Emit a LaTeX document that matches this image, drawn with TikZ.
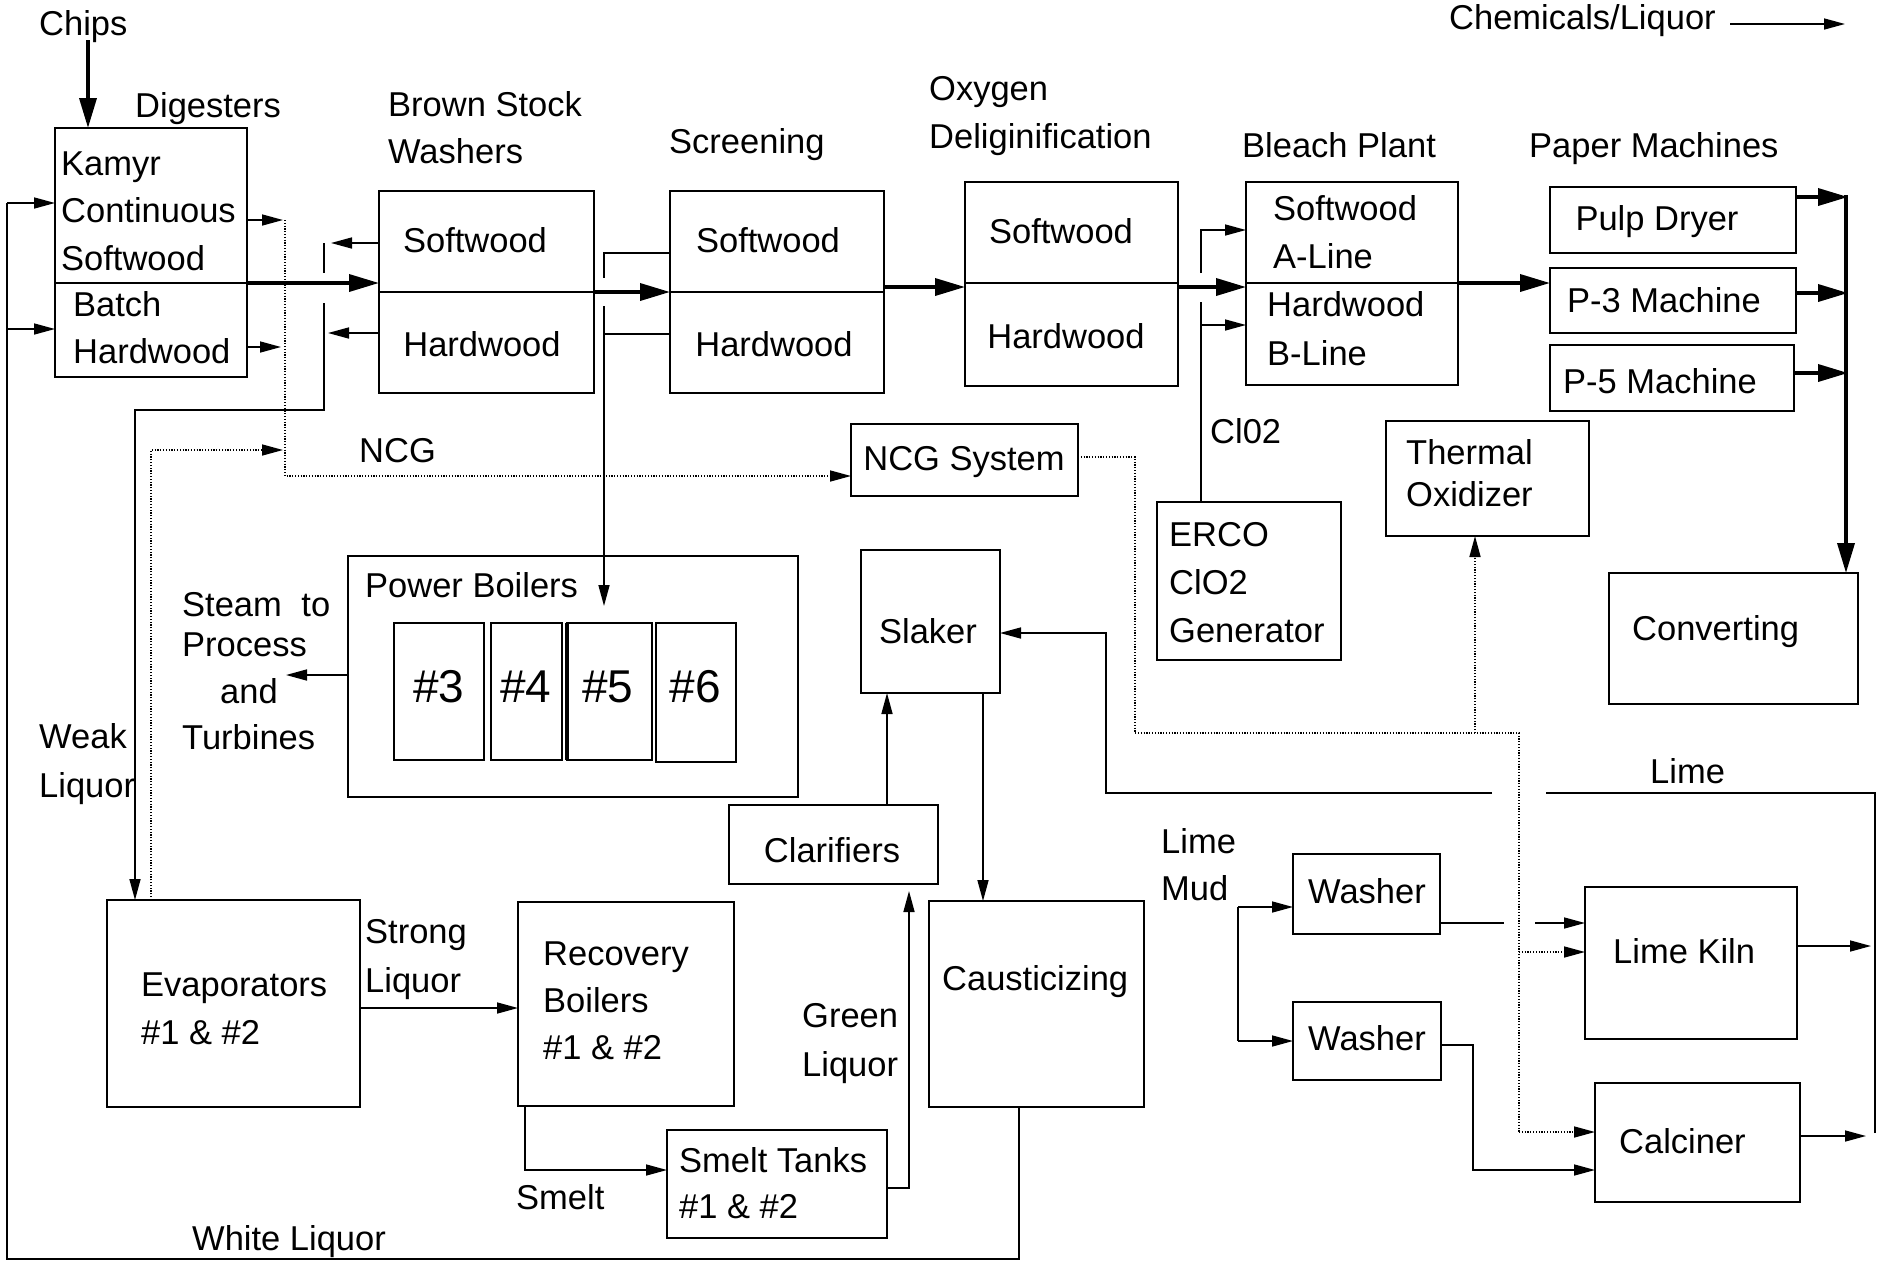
\documentclass[tikz,border=0pt]{standalone}
\usepackage{fontspec}
\setmainfont{Liberation Sans}
\usetikzlibrary{arrows.meta}
\newcommand\BX[5]{\node[box, minimum width={#4-#2}, minimum height={#5-#3}] (#1) at ({(#2+#4)/2},{(#3+#5)/2}) {};}
\newcommand\Lns[2]{\vtop{\baselineskip=#1\relax #2}}
\begin{document}
\begin{tikzpicture}[x=1pt,y=-1pt,
  box/.style={draw, line width=2.4pt, inner sep=0pt, outer sep=0pt},
  divl/.style={line width=2.4pt},
  lbl/.style={anchor=base west, inner sep=0pt, font=\fontsize{34.5}{40}\selectfont},
  clbl/.style={anchor=base, inner sep=0pt, font=\fontsize{34.5}{40}\selectfont},
  big/.style={anchor=base, inner sep=0pt, font=\fontsize{46}{50}\selectfont},
  thn/.style={line width=1.6pt},
  thk/.style={line width=3.6pt},
  ta/.style={thn, -{Triangle[length=21pt,width=11pt]}},
  ka/.style={thk, -{Triangle[length=30pt,width=17pt]}},
  dot/.style={line width=1.6pt, dash pattern=on 1.2pt off 1.6pt},
  da/.style={dot, -{Triangle[length=21pt,width=11pt]}},
]
\fill[white] (0,0) rectangle (1883,1262);
\useasboundingbox (0,0) rectangle (1883,1262);

% ---------- boxes ----------
\BX{dig}{55}{128}{247}{377}
\BX{bsw}{379}{191}{594}{393}
\BX{scr}{670}{191}{884}{393}
\BX{oxy}{965}{182}{1178}{386}
\BX{blc}{1246}{182}{1458}{385}
\BX{pulp}{1550}{187}{1796}{253}
\BX{p3}{1550}{268}{1796}{333}
\BX{p5}{1550}{345}{1794}{411}
\BX{ncgs}{851}{424}{1078}{496}
\BX{erco}{1157}{502}{1341}{660}
\BX{thox}{1386}{421}{1589}{536}
\BX{conv}{1609}{573}{1858}{704}
\BX{pb}{348}{556}{798}{797}
\BX{b3}{394}{623}{484}{760}
\BX{b4}{491}{623}{562}{760}
\BX{b5}{567}{623}{652}{760}
\BX{b6}{656}{623}{736}{762}
\BX{slaker}{861}{550}{1000}{693}
\BX{clar}{729}{805}{938}{884}
\BX{evap}{107}{900}{360}{1107}
\BX{recov}{518}{902}{734}{1106}
\BX{smelt}{667}{1130}{887}{1238}
\BX{caus}{929}{901}{1144}{1107}
\BX{wash1}{1293}{854}{1440}{934}
\BX{wash2}{1293}{1002}{1441}{1080}
\BX{kiln}{1585}{887}{1797}{1039}
\BX{calc}{1595}{1083}{1800}{1202}

% dividers
\draw[divl] (dig.west |- 0,283) -- (dig.east |- 0,283);
\draw[divl] (bsw.west |- 0,292) -- (bsw.east |- 0,292);
\draw[divl] (scr.west |- 0,292) -- (scr.east |- 0,292);
\draw[divl] (oxy.west |- 0,283) -- (oxy.east |- 0,283);
\draw[divl] (blc.west |- 0,283) -- (blc.east |- 0,283);
\draw[line width=4.5pt] (b5.north west) -- (b5.south west);

% ---------- texts ----------
\node[lbl] (tChips) at (39,35) {Chips};
\node[lbl] (tDig) at (135,117) {Digesters};
\node[lbl] (tKamyr) at (61,175) {\Lns{47.5pt}{\hbox{Kamyr}\hbox{Continuous}\hbox{Softwood}}};
\node[lbl] (tBatch) at (73,316) {\Lns{47pt}{\hbox{Batch}\hbox{Hardwood}}};
\node[lbl] (tBSW) at (388,116) {\Lns{47pt}{\hbox{Brown Stock}\hbox{Washers}}};
\node[clbl] (tBSWs) at (475,252) {Softwood};
\node[clbl] (tBSWh) at (482,356) {Hardwood};
\node[lbl] (tScr) at (669,153) {Screening};
\node[clbl] (tScrs) at (768,252) {Softwood};
\node[clbl] (tScrh) at (774,356) {Hardwood};
\node[lbl] (tOxy) at (929,100) {\Lns{48pt}{\hbox{Oxygen}\hbox{Deliginification}}};
\node[clbl] (tOxys) at (1061,243) {Softwood};
\node[clbl] (tOxyh) at (1066,348) {Hardwood};
\node[lbl] (tBlc) at (1242,157) {Bleach Plant};
\node[lbl] (tBlcA) at (1273,220) {\Lns{48pt}{\hbox{Softwood}\hbox{A-Line}}};
\node[lbl] (tBlcB) at (1267,316) {\Lns{49pt}{\hbox{Hardwood}\hbox{B-Line}}};
\node[lbl] (tPM) at (1529,157) {Paper Machines};
\node[clbl] (tPulp) at (1657,230) {Pulp Dryer};
\node[clbl] (tP3) at (1664,312) {P-3 Machine};
\node[clbl] (tP5) at (1660,393) {P-5 Machine};
\node[lbl] (tChem) at (1449,29) {Chemicals/Liquor};
\node[lbl] (tNCG) at (359,462) {NCG};
\node[clbl] (tNCGs) at (964,470) {NCG System};
\node[lbl] (tClO) at (1210,443) {Cl02};
\node[lbl] (tErco) at (1169,546) {\Lns{48pt}{\hbox{ERCO}\hbox{ClO2}\hbox{Generator}}};
\node[lbl] (tThox) at (1406,464) {\Lns{42pt}{\hbox{Thermal}\hbox{Oxidizer}}};
\node[lbl] (tConv) at (1632,640) {Converting};
\node[lbl] (tPB) at (365,597) {Power Boilers};
\node[lbl] (tSt1) at (182,616) {Steam\hspace{10pt} to};
\node[lbl] (tSt2) at (182,656) {Process};
\node[lbl] (tSt3) at (220,703) {and};
\node[lbl] (tSt4) at (182,749) {Turbines};
\node[big] (t3) at (439,702) {\#3};
\node[big] (t4) at (526,702) {\#4};
\node[big] (t5) at (608,702) {\#5};
\node[big] (t6) at (695,702) {\#6};
\node[lbl] (tWeak) at (39,748) {\Lns{49pt}{\hbox{Weak}\hbox{Liquor}}};
\node[clbl] (tSlaker) at (928,643) {Slaker};
\node[clbl] (tClar) at (832,862) {Clarifiers};
\node[lbl] (tEvap) at (141,996) {\Lns{48pt}{\hbox{Evaporators}\hbox{\#1 \& \#2}}};
\node[lbl] (tStrong) at (365,943) {\Lns{49pt}{\hbox{Strong}\hbox{Liquor}}};
\node[lbl] (tRecov) at (543,965) {\Lns{47pt}{\hbox{Recovery}\hbox{Boilers}\hbox{\#1 \& \#2}}};
\node[lbl] (tSmelt) at (516,1209) {Smelt};
\node[lbl] (tSmeltT) at (679,1172) {\Lns{46pt}{\hbox{Smelt Tanks}\hbox{\#1 \& \#2}}};
\node[lbl] (tGreen) at (802,1027) {\Lns{49pt}{\hbox{Green}\hbox{Liquor}}};
\node[lbl] (tCaus) at (942,990) {Causticizing};
\node[lbl] (tLimeMud) at (1161,853) {\Lns{47pt}{\hbox{Lime}\hbox{Mud}}};
\node[lbl] (tW1) at (1308,903) {Washer};
\node[lbl] (tW2) at (1308,1050) {Washer};
\node[lbl] (tKiln) at (1613,963) {Lime Kiln};
\node[lbl] (tCalc) at (1619,1153) {Calciner};
\node[lbl] (tLime) at (1650,783) {Lime};
\node[lbl] (tWhite) at (192,1250) {White Liquor};

% ---------- connectors ----------
% legend
\coordinate (legA) at (1730,24);
\coordinate (legB) at (1845,24);
\draw[ta] (legA) -- (legB);
% chips
\coordinate (chipsTop) at (88,40);
\draw[ka] (chipsTop) -- (dig.north -| chipsTop);
% main pulp line
\draw[ka] (dig.east |- 0,283) -- (bsw.west |- 0,283);
\draw[ka] (bsw.east |- 0,292) -- (scr.west |- 0,292);
\draw[ka] (scr.east |- 0,287) -- (oxy.west |- 0,287);
\draw[ka] (oxy.east |- 0,287) -- (blc.west |- 0,287);
\draw[ka] (blc.east |- 0,283) -- (p3.west |- 0,283);
\draw[thk] (1846,195) -- (1846,560);
\draw[ka] (1846,540) -- (conv.north -| 1846,0);
\draw[ka] (pulp.east |- 0,197) -- (1848,197);
\draw[ka] (p3.east |- 0,293) -- (1848,293);
\draw[ka] (p5.east |- 0,373) -- (1848,373);
% white liquor
\draw[thn] (caus.south -| 1019,0) -- (1019,1259) -- (7,1259) -- (7,203);
\draw[ta] (7,203) -- (dig.west |- 0,203);
\draw[ta] (7,329) -- (dig.west |- 0,329);
% NCG from digesters and evaporators
\draw[ta] (dig.east |- 0,220) -- (283,220);
\draw[ta] (dig.east |- 0,347) -- (281,347);
\draw[da] (285,220) -- (285,476) -- (ncgs.west |- 0,476);
\draw[da] (evap.north -| 151,0) -- (151,450) -- (283,450);
% weak liquor
\draw[ta] (bsw.west |- 0,243) -- (331,243);
\draw[ta] (bsw.west |- 0,333) -- (328,333);
\draw[thn] (324,243) -- (324,273);
\draw[ta] (324,303) -- (324,410) -- (135,410) -- (evap.north -| 135,0);
% screening rejects to power boilers
\draw[thn] (scr.west |- 0,253) -- (604,253) -- (604,278);
\draw[thn] (scr.west |- 0,334) -- (604,334);
\draw[ta] (604,306) -- (604,606);
% steam
\draw[ta] (pb.west |- 0,675) -- (286,675);
% NCG system to thermal oxidizer, kiln, calciner
\draw[dot] (ncgs.east |- 0,457) -- (1135,457) -- (1135,733) -- (1519,733) -- (1519,1132);
\draw[da] (1519,1132) -- (calc.west |- 0,1132);
\draw[da] (1475,733) -- (thox.south -| 1475,0);
\draw[da] (1519,952) -- (kiln.west |- 0,952);
% ClO2
\draw[thn] (erco.north -| 1201,0) -- (1201,302);
\draw[ta] (1201,273) -- (1201,230) -- (blc.west |- 0,230);
\draw[ta] (1201,325) -- (blc.west |- 0,325);
% slaker
\draw[ta] (clar.north -| 887,0) -- (slaker.south -| 887,0);
\draw[ta] (slaker.south -| 983,0) -- (caus.north -| 983,0);
% lime return
\draw[thn] (1875,1133) -- (1875,793) -- (1546,793);
\draw[ta] (1492,793) -- (1106,793) -- (1106,633) -- (slaker.east |- 0,633);
\draw[ta] (kiln.east |- 0,946) -- (1871,946);
\draw[ta] (calc.east |- 0,1136) -- (1866,1136);
% lime mud washers
\draw[thn] (1238,907) -- (1238,1041);
\draw[ta] (1238,907) -- (wash1.west |- 0,907);
\draw[ta] (1238,1041) -- (wash2.west |- 0,1041);
\draw[thn] (wash1.east |- 0,923) -- (1504,923);
\draw[ta] (1535,923) -- (kiln.west |- 0,923);
\draw[ta] (wash2.east |- 0,1045) -- (1473,1045) -- (1473,1170) -- (calc.west |- 0,1170);
% recovery
\draw[ta] (evap.east |- 0,1008) -- (recov.west |- 0,1008);
\draw[ta] (recov.south -| 525,0) -- (525,1170) -- (smelt.west |- 0,1170);
\draw[ta] (smelt.east |- 0,1188) -- (909,1188) -- (909,891);
\end{tikzpicture}
\end{document}
